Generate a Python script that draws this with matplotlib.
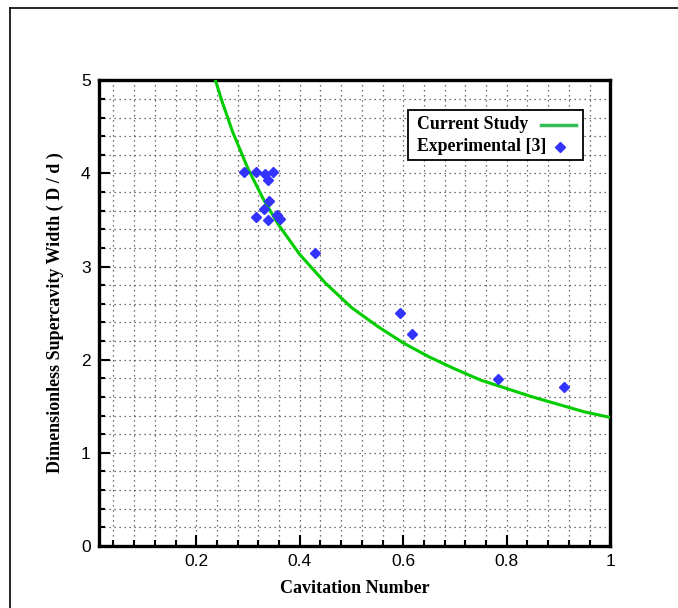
import matplotlib
matplotlib.use("Agg")
import matplotlib.pyplot as plt
from matplotlib.ticker import MultipleLocator, FormatStrFormatter
from matplotlib.lines import Line2D
from matplotlib.patches import Rectangle

# Current study: supercavity width vs cavitation number
study_sigma = [0.237, 0.25, 0.27, 0.30, 0.33, 0.36, 0.40, 0.45, 0.50, 0.55,
               0.60, 0.65, 0.70, 0.75, 0.80, 0.85, 0.90, 0.95, 1.00]
study_width = [5.00, 4.77, 4.45, 4.05, 3.72, 3.44, 3.13, 2.82, 2.56, 2.36,
               2.18, 2.03, 1.90, 1.78, 1.69, 1.60, 1.52, 1.44, 1.38]

# Experimental data [3]
exp_sigma = [0.293, 0.315, 0.332, 0.339, 0.348, 0.341, 0.331, 0.315, 0.339,
             0.357, 0.362, 0.430, 0.594, 0.617, 0.783, 0.911]
exp_width = [4.01, 4.01, 3.99, 3.93, 4.01, 3.70, 3.62, 3.53, 3.50,
             3.55, 3.51, 3.15, 2.50, 2.28, 1.79, 1.71]

series_names = ["Current Study", "Experimental [3]"]

serif = ["Liberation Serif", "DejaVu Serif"]
sans = ["Liberation Sans", "DejaVu Sans"]

fig = plt.figure(figsize=(6.78, 6.08), dpi=100)
ax = fig.add_axes([0.146, 0.102, 0.754, 0.766])

# page frame lines
fig.add_artist(Line2D([10 / 678, 10 / 678], [0, 1 - 8 / 608],
                      transform=fig.transFigure, color="black", lw=1.2))
fig.add_artist(Line2D([10 / 678, 1], [1 - 8 / 608, 1 - 8 / 608],
                      transform=fig.transFigure, color="black", lw=1.2))

green = "#00cc00"
blue = "#3333ff"

ax.plot(study_sigma, study_width, color=green, lw=2.2, zorder=3)
ax.plot(exp_sigma, exp_width, linestyle="none", marker="D", markersize=5.2,
        color=blue, markeredgecolor=blue, zorder=4)

ax.set_xlim(0.012, 1.0)
ax.set_ylim(0, 5)

ax.xaxis.set_major_locator(MultipleLocator(0.2))
ax.xaxis.set_minor_locator(MultipleLocator(0.04))
ax.yaxis.set_major_locator(MultipleLocator(1))
ax.yaxis.set_minor_locator(MultipleLocator(0.2))
ax.xaxis.set_major_formatter(FormatStrFormatter("%g"))
ax.yaxis.set_major_formatter(FormatStrFormatter("%g"))

ax.grid(True, which="both", linestyle=(0, (1, 3)), color="#444444", lw=0.9)
ax.set_axisbelow(True)

ax.tick_params(which="both", direction="in", top=False, right=False,
               width=1.5, labelsize=12.5)
ax.tick_params(which="major", length=8, pad=6)
ax.tick_params(which="minor", length=4)
for lab in ax.get_xticklabels() + ax.get_yticklabels():
    lab.set_family(sans)

for sp in ax.spines.values():
    sp.set_linewidth(2.4)

ax.set_xlabel("Cavitation Number", family=serif, fontweight="bold",
              fontsize=13, labelpad=8)
ax.set_ylabel("Dimensionless Supercavity Width ( D / d )", family=serif,
              fontweight="bold", fontsize=13, labelpad=12)

# legend box: labels on the left, symbols on the right
ax.add_patch(Rectangle((0.605, 0.828), 0.342, 0.108, transform=ax.transAxes,
                       facecolor="white", edgecolor="black", lw=1.3, zorder=5))
ax.text(0.622, 0.906, series_names[0], transform=ax.transAxes, ha="left",
        va="center", family=serif, fontweight="bold", fontsize=12.8, zorder=6)
ax.text(0.622, 0.858, series_names[1], transform=ax.transAxes, ha="left",
        va="center", family=serif, fontweight="bold", fontsize=12.8, zorder=6)
ax.add_line(Line2D([0.865, 0.933], [0.903, 0.903], transform=ax.transAxes,
                   color="#33bb55", lw=2.5, zorder=6))
ax.add_line(Line2D([0.902], [0.857], transform=ax.transAxes, linestyle="none",
                   marker="D", markersize=5, color=blue, zorder=6))

fig.savefig("out.png", dpi=100)
